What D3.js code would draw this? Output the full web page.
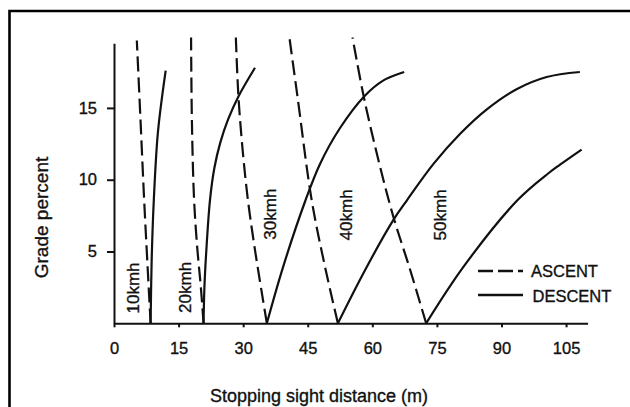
<!DOCTYPE html>
<html>
<head>
<meta charset="utf-8">
<script src="https://cdn.jsdelivr.net/npm/d3@7/dist/d3.min.js"></script>
<style>
  body { margin: 0; background: #fff; }
  svg { display: block; }
  text { font-family: "Liberation Sans", Arial, Helvetica, sans-serif; fill: #111; stroke: #111; stroke-width: 0.35px; }
</style>
</head>
<body>
<svg id="chart" width="630" height="407"></svg>
<script>
// Stopping sight distance (m) against grade (%) for each design speed.
const speeds = ["10kmh", "20kmh", "30kmh", "40kmh", "50kmh"];

// Ascent curves: [distance m, grade %]
const ascent10 = [[8.5, 0], [7.6, 5.1], [7.0, 8.6], [6.15, 14.2], [5.3, 19.7]];
const ascent20 = [[20.8, 0], [20.15, 2.6], [19.35, 5.2], [18.6, 8.6], [18.1, 14.0], [17.9, 19.9]];
const ascent30 = [[35.5, 0], [32.75, 5.1], [31.1, 8.6], [29.9, 12.0], [28.9, 15.8], [28.3, 19.9]];
const ascent40 = [[52.0, 0], [49.0, 3.95], [45.9, 8.6], [42.7, 15.6], [40.7, 20.0]];
const ascent50 = [[72.5, 0], [68.5, 4.0], [65.0, 7.3], [61.8, 10.9], [58.1, 15.65], [55.4, 19.9]];

// Descent curves: [distance m, grade %]
const descent10 = [[8.5, 0], [8.75, 4.4], [9.25, 8.6], [10.2, 13.3], [12.0, 17.6]];
const descent20 = [[20.8, 0], [21.0, 2.5], [21.45, 5.1], [22.3, 8.6], [23.3, 10.8], [24.7, 12.6], [26.5, 14.2], [28.9, 15.8], [32.75, 17.8]];
const descent30 = [[35.5, 0], [39.3, 3.95], [44.4, 8.5], [47.85, 11.1], [52.5, 13.6], [58.1, 15.8], [62.5, 16.9], [67.4, 17.5]];
const descent40 = [[52.0, 0], [58.3, 3.7], [64.9, 7.2], [68.0, 8.55], [74.2, 11.1], [80.4, 13.2], [86.6, 14.9], [93.5, 16.3], [100.5, 17.15], [108.2, 17.5]];
const descent50 = [[72.5, 0], [81.2, 3.95], [93.8, 8.6], [100.9, 10.45], [103.6, 11.05], [108.6, 12.1]];

const ascentSeries = [ascent10, ascent20, ascent30, ascent40, ascent50];
const descentSeries = [descent10, descent20, descent30, descent40, descent50];

const xTicks = [0, 15, 30, 45, 60, 75, 90, 105];
const yTicks = [5, 10, 15];

const svg = d3.select("#chart");

const x = d3.scaleLinear().domain([0, 110]).range([114, 587.6]);
const y = d3.scaleLinear().domain([0, 19.5]).range([323.3, 43.3]);

// outer frame (top and left edges)
svg.append("path")
  .attr("d", "M9.5,407V11H630")
  .attr("fill", "none")
  .attr("stroke", "#000")
  .attr("stroke-width", 2.6);

// axes
const gx = svg.append("g")
  .attr("transform", `translate(0,${y(0)})`)
  .call(d3.axisBottom(x).tickValues(xTicks).tickSizeInner(4).tickSizeOuter(0).tickPadding(15));
const gy = svg.append("g")
  .attr("transform", `translate(${x(0)},0)`)
  .call(d3.axisLeft(y).tickValues(yTicks).tickSizeInner(7).tickSizeOuter(0).tickPadding(10));

[gx, gy].forEach(g => {
  g.select(".domain").attr("stroke", "#111").attr("stroke-width", 2);
  g.selectAll(".tick line").attr("stroke", "#111").attr("stroke-width", 2);
  g.selectAll(".tick text")
    .attr("font-family", "'Liberation Sans', Arial, sans-serif")
    .attr("font-size", 16.5)
    .attr("fill", "#111");
});

// axis titles
svg.append("text")
  .attr("x", 319).attr("y", 401.5)
  .attr("text-anchor", "middle")
  .attr("font-size", 18)
  .text("Stopping sight distance (m)");
svg.append("text")
  .attr("transform", "translate(41.7,217.5) rotate(-90)")
  .attr("text-anchor", "middle")
  .attr("dy", "0.35em")
  .attr("font-size", 19)
  .text("Grade percent");

// curves
const line = d3.line()
  .x(d => x(d[0]))
  .y(d => y(d[1]))
  .curve(d3.curveCatmullRom.alpha(0.5));

svg.append("g").selectAll("path")
  .data(ascentSeries)
  .join("path")
  .attr("d", line)
  .attr("fill", "none")
  .attr("stroke", "#111")
  .attr("stroke-width", 2.2)
  .attr("stroke-dasharray", "15,6");

svg.append("g").selectAll("path")
  .data(descentSeries)
  .join("path")
  .attr("d", line)
  .attr("fill", "none")
  .attr("stroke", "#111")
  .attr("stroke-width", 2.2);

// speed labels, anchored in chart units
const labelAt = [[4.48, 2.46], [16.5, 2.5], [36.2, 7.6], [54.0, 7.55], [75.7, 7.55]];
svg.append("g").selectAll("text")
  .data(speeds)
  .join("text")
  .attr("transform", (d, i) => `translate(${x(labelAt[i][0])},${y(labelAt[i][1])}) rotate(-90)`)
  .attr("text-anchor", "middle")
  .attr("dy", "0.35em")
  .attr("font-size", 17)
  .text(d => d);

// legend
const legend = svg.append("g");
legend.append("line")
  .attr("x1", 478).attr("x2", 523).attr("y1", 271).attr("y2", 271)
  .attr("stroke", "#111").attr("stroke-width", 2.6)
  .attr("stroke-dasharray", "15,5");
legend.append("text")
  .attr("x", 531).attr("y", 271).attr("dy", "0.35em")
  .attr("font-size", 16.5)
  .text("ASCENT");
legend.append("line")
  .attr("x1", 478).attr("x2", 523).attr("y1", 295).attr("y2", 295)
  .attr("stroke", "#111").attr("stroke-width", 2.6);
legend.append("text")
  .attr("x", 532.5).attr("y", 296.5).attr("dy", "0.35em")
  .attr("font-size", 16.5)
  .text("DESCENT");
</script>
</body>
</html>
